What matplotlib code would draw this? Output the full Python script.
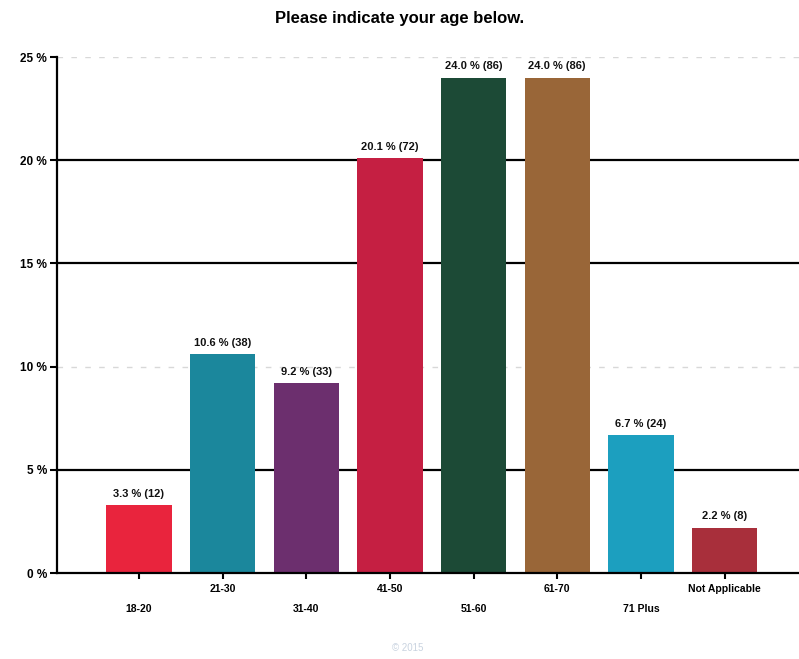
import matplotlib
matplotlib.use('Agg')
import matplotlib.pyplot as plt

# Age survey results
categories = ['18-20', '21-30', '31-40', '41-50', '51-60', '61-70', '71 Plus', 'Not Applicable']
percents = [3.3, 10.6, 9.2, 20.1, 24.0, 24.0, 6.7, 2.2]
counts = [12, 38, 33, 72, 86, 86, 24, 8]
colors = ['#e9243d', '#1b879c', '#6c2f6e', '#c51f42', '#1c4a36', '#996638', '#1c9fbf', '#a82f3b']
y_ticks = [0, 5, 10, 15, 20, 25]

plt.rcParams['font.family'] = ['Liberation Sans', 'DejaVu Sans']

fig = plt.figure(figsize=(7.99, 6.59), dpi=100)
ax = fig.add_axes([0.0713, 0.1305, 0.9287, 0.783])

x = list(range(1, len(categories) + 1))

# horizontal grid lines: strong ones and the faint ones
for yv in y_ticks[1:]:
    if yv in (10, 25):
        ax.axhline(yv, color='#d8d8d8', lw=1.0, ls=(0, (4, 6)), zorder=0)
    else:
        ax.axhline(yv, color='black', lw=1.6, zorder=0)

ax.bar(x, percents, width=0.78, color=colors, zorder=2)

for xi, p, c in zip(x, percents, counts):
    ax.text(xi, p + 0.3, f'{p:.1f} % ({c})', ha='center', va='bottom',
            fontsize=8, fontweight='bold', color='#111111')

ax.set_xlim(0.02, 8.89)
ax.set_ylim(0, 25)

ax.set_yticks(y_ticks)
ax.set_yticklabels([f'{v} %' for v in y_ticks], fontsize=8.5, fontweight='bold')
ax.set_xticks(x)
ax.set_xticklabels(categories, fontsize=7.5, fontweight='bold')

ax.tick_params(axis='y', direction='out', length=5, width=1.5, pad=2)
ax.tick_params(axis='x', direction='out', length=4, width=1.5)

# stagger the category labels on two rows
for i, tick in enumerate(ax.xaxis.get_major_ticks()):
    tick.set_pad(4 if i % 2 == 1 else 18)

for side in ('top', 'right'):
    ax.spines[side].set_visible(False)
ax.spines['left'].set_linewidth(1.6)
ax.spines['bottom'].set_linewidth(1.6)

fig.text(0.5, 0.972, 'Please indicate your age below.', ha='center', va='center',
         fontsize=12, fontweight='bold')
fig.text(0.51, 0.016, '\u00a9 2015', ha='center', va='center', fontsize=7, color='#c9d3e0')

fig.savefig('out.png', dpi=100)
